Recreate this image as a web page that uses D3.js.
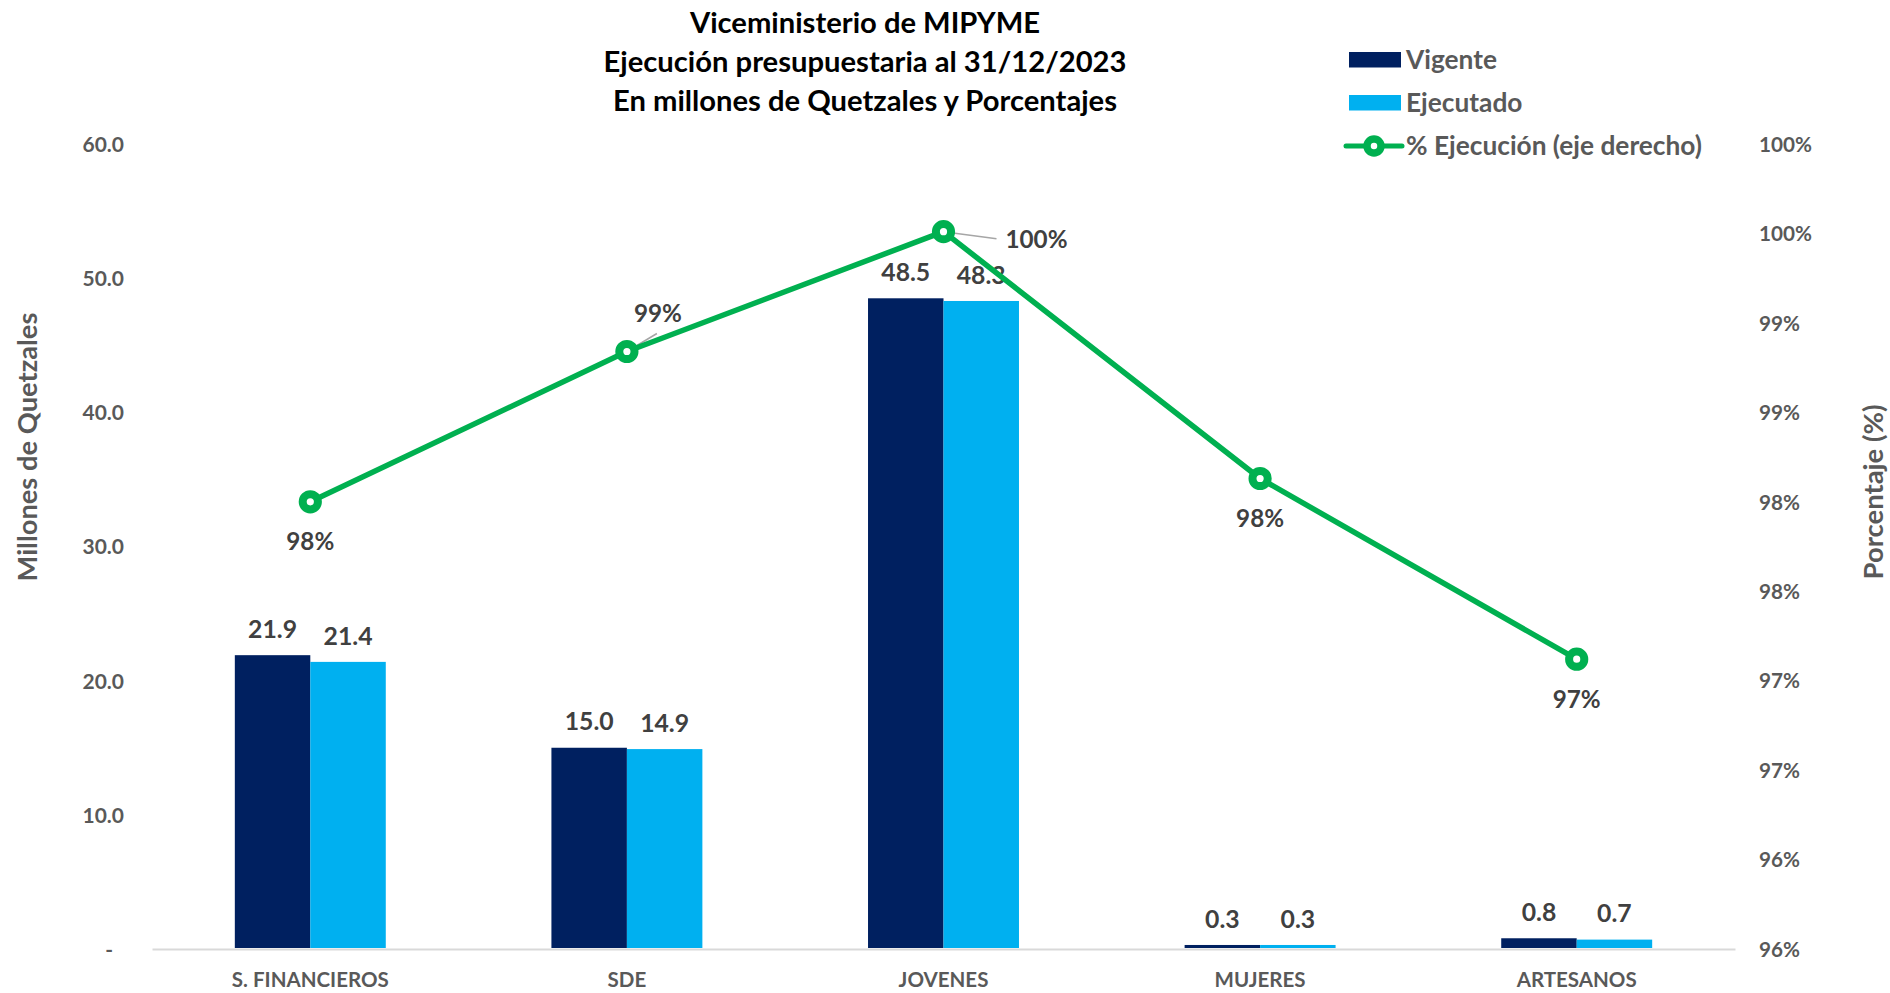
<!DOCTYPE html>
<html>
<head>
<meta charset="utf-8">
<script src="https://cdn.jsdelivr.net/npm/d3@7"></script>
<style>
  html, body { margin: 0; padding: 0; background: #fff; }
  svg text { font-family: Lato, "Open Sans", sans-serif; font-weight: bold; }
</style>
</head>
<body>
<svg id="chart" width="1890" height="993"></svg>
<script>
// ---------------- DATA ----------------
const categories = ["S. FINANCIEROS", "SDE", "JOVENES", "MUJERES", "ARTESANOS"];
const seriesNames = ["Vigente", "Ejecutado"];
const vigente   = [21.9, 15.0, 48.5, 0.3, 0.8];
const ejecutado = [21.4, 14.9, 48.3, 0.3, 0.7];
const pctEjecucion = [98.00, 98.84, 99.51, 98.13, 97.12];
const lineName = "% Ejecución (eje derecho)";
const leftTicks  = [0, 10, 20, 30, 40, 50, 60];
const rightTicks = [95.5, 96, 96.5, 97, 97.5, 98, 98.5, 99, 99.5, 100];
const titleLines = ["Viceministerio de MIPYME", "Ejecución presupuestaria al 31/12/2023", "En millones de Quetzales y Porcentajes"];
const leftTitle = "Millones de Quetzales";
const rightTitle = "Porcentaje (%)";

// ---------------- STYLE / LAYOUT ----------------
const colors = { Vigente: "#002060", Ejecutado: "#00B0F0", line: "#00B050" };
const tickColor = "#595959", labelColor = "#404040";
// percent label placement (dx, dy, leader)
const pctLabelPlace = [
  {dx: 0, dy: 40, anchor: "middle"},
  {dx: 31, dy: -38, anchor: "middle", leader: true},
  {dx: 62, dy: 8, anchor: "start", leader: true},
  {dx: 0, dy: 40, anchor: "middle"},
  {dx: 0, dy: 40, anchor: "middle"}
];

const svg = d3.select("#chart");
const plot = {left: 152, right: 1735, top: 144, bottom: 949};

const x = d3.scaleBand().domain(categories).range([plot.left, plot.right]).padding(0);
const bw = x.bandwidth();
const x1 = d3.scaleBand().domain(seriesNames).range([bw * 0.2616, bw * 0.7384]).padding(0);
const yL = d3.scaleLinear().domain([0, 60]).range([plot.bottom, plot.top]);
const yR = d3.scaleLinear().domain([95.5, 100]).range([plot.bottom, plot.top]);

function fit(sel, target) {
  const w = sel.node().getComputedTextLength();
  const fs = parseFloat(sel.attr("font-size"));
  return fs * target / w;
}

// ---------------- AXES ----------------
const leftAxis = d3.axisLeft(yL).tickValues(leftTicks).tickSize(0)
  .tickFormat(d => d === 0 ? "-" : d3.format(".1f")(d));
const gL = svg.append("g").attr("transform", `translate(124,0)`).call(leftAxis);
gL.select(".domain").remove();
gL.selectAll("text").attr("x", 0).attr("fill", tickColor).attr("font-size", 21)
  .attr("font-family", null).attr("dy", "0.35em");
const fsTick = fit(gL.selectAll("text").filter(d => d === 60), 41.5);
gL.selectAll("text").attr("font-size", fsTick).attr("x", d => d === 0 ? -11 : 0);

const rightAxis = d3.axisRight(yR).tickValues(rightTicks).tickSize(0)
  .tickFormat(d => Math.round(d) + "%");
const gR = svg.append("g").attr("transform", `translate(1759,0)`).call(rightAxis);
gR.select(".domain").remove();
gR.selectAll("text").attr("x", 0).attr("fill", tickColor).attr("font-size", 21)
  .attr("font-family", null).attr("dy", "0.35em");
const fsR = fit(gR.selectAll("text").filter(d => d === 100), 53);
gR.selectAll("text").attr("font-size", fsR);

const bottomAxis = d3.axisBottom(x).tickSize(0);
const gB = svg.append("g").attr("transform", `translate(0,${plot.bottom})`).call(bottomAxis);
gB.select(".domain").attr("stroke", "#D9D9D9").attr("stroke-width", 2);
gB.selectAll("text").attr("y", 31).attr("dy", "0.35em").attr("fill", tickColor)
  .attr("font-size", 21).attr("font-family", null);
const fsCat = fit(gB.selectAll("text").filter(d => d === "S. FINANCIEROS"), 157);
gB.selectAll("text").attr("font-size", fsCat);

// ---------------- BARS ----------------
const rows = categories.map((c, i) => ({cat: c, values: [
  {s: "Vigente", v: vigente[i]}, {s: "Ejecutado", v: ejecutado[i]}]}));
const groups = svg.append("g").selectAll("g").data(rows).join("g")
  .attr("transform", d => `translate(${x(d.cat)},0)`);
groups.selectAll("rect").data(d => d.values).join("rect")
  .attr("x", d => x1(d.s)).attr("width", x1.bandwidth())
  .attr("y", d => yL(d.v)).attr("height", d => yL(0) - yL(d.v) - 1)
  .attr("fill", d => colors[d.s]);
const barLabels = groups.selectAll("text").data(d => d.values).join("text")
  .attr("x", d => x1(d.s) + x1.bandwidth() / 2)
  .attr("y", d => yL(d.v) - 26).attr("dy", "0.35em")
  .attr("text-anchor", "middle").attr("fill", labelColor).attr("font-size", 23)
  .text(d => d3.format(".1f")(d.v));
const fsBar = fit(barLabels.filter(d => d.v === 48.5), 49);
barLabels.attr("font-size", fsBar);

// ---------------- LINE ----------------
const pts = categories.map((c, i) => ({cat: c, v: pctEjecucion[i], i}));
const cx = d => x(d.cat) + bw / 2;
// leaders (drawn below line)
const leaders = svg.append("g");
pts.forEach((d, i) => {
  const p = pctLabelPlace[i];
  if (!p.leader) return;
  const px = cx(d), py = yR(d.v);
  if (p.anchor === "start") {
    leaders.append("path").attr("d", `M${px},${py} L${px + 38},${py + 5} L${px + 53},${py + 7}`)
      .attr("fill", "none").attr("stroke", "#A6A6A6").attr("stroke-width", 1.5);
  } else {
    leaders.append("path").attr("d", `M${px},${py} L${px + 30},${py - 18}`)
      .attr("fill", "none").attr("stroke", "#A6A6A6").attr("stroke-width", 1.5);
  }
});
svg.append("path").datum(pts)
  .attr("d", d3.line().x(cx).y(d => yR(d.v)))
  .attr("fill", "none").attr("stroke", colors.line).attr("stroke-width", 5.5)
  .attr("stroke-linejoin", "round");
svg.append("g").selectAll("circle").data(pts).join("circle")
  .attr("cx", cx).attr("cy", d => yR(d.v)).attr("r", 7.6)
  .attr("fill", "#fff").attr("stroke", colors.line).attr("stroke-width", 8);
const pctLabels = svg.append("g").selectAll("text").data(pts).join("text")
  .attr("x", d => cx(d) + pctLabelPlace[d.i].dx)
  .attr("y", d => yR(d.v) + pctLabelPlace[d.i].dy).attr("dy", "0.35em")
  .attr("text-anchor", d => pctLabelPlace[d.i].anchor)
  .attr("fill", labelColor).attr("font-size", 23)
  .text(d => Math.round(d.v) + "%");
const fsPct = fit(pctLabels.filter(d => d.i === 0), 48);
pctLabels.attr("font-size", fsPct);

// ---------------- TITLES ----------------
const title = svg.append("g");
const tl = title.selectAll("text").data(titleLines).join("text")
  .attr("x", 865).attr("y", (d, i) => 23 + i * 39).attr("dy", "0.35em")
  .attr("text-anchor", "middle").attr("fill", "#000").attr("font-size", 26)
  .text(d => d);
const fsTitle = fit(tl.filter((d, i) => i === 1), 523);
tl.attr("font-size", fsTitle);

const lt = svg.append("text").attr("transform", "translate(27,447) rotate(-90)")
  .attr("text-anchor", "middle").attr("dy", "0.35em").attr("fill", tickColor)
  .attr("font-size", 24).text(leftTitle);
lt.attr("font-size", fit(lt, 269));
const rt = svg.append("text").attr("transform", "translate(1873,492) rotate(-90)")
  .attr("text-anchor", "middle").attr("dy", "0.35em").attr("fill", tickColor)
  .attr("font-size", 24).text(rightTitle);
rt.attr("font-size", fit(rt, 175));

// ---------------- LEGEND ----------------
const legend = svg.append("g");
const legendItems = [
  {name: seriesNames[0], type: "rect", color: colors.Vigente, y: 60},
  {name: seriesNames[1], type: "rect", color: colors.Ejecutado, y: 103},
  {name: lineName, type: "line", color: colors.line, y: 146}
];
legendItems.forEach(it => {
  if (it.type === "rect") {
    legend.append("rect").attr("x", 1349).attr("y", it.y - 8).attr("width", 52).attr("height", 15.5)
      .attr("fill", it.color);
  } else {
    legend.append("line").attr("x1", 1346).attr("x2", 1402).attr("y1", it.y).attr("y2", it.y)
      .attr("stroke", it.color).attr("stroke-width", 5).attr("stroke-linecap", "round");
    legend.append("circle").attr("cx", 1374).attr("cy", it.y).attr("r", 7)
      .attr("fill", "#fff").attr("stroke", it.color).attr("stroke-width", 7.5);
  }
});
const legTexts = legend.selectAll("text").data(legendItems).join("text")
  .attr("x", 1406).attr("y", d => d.y).attr("dy", "0.35em")
  .attr("fill", tickColor).attr("font-size", 24).text(d => d.name);
const fsLeg = fit(legTexts.filter(d => d.type === "line"), 296);
legTexts.attr("font-size", fsLeg);
</script>
</body>
</html>
